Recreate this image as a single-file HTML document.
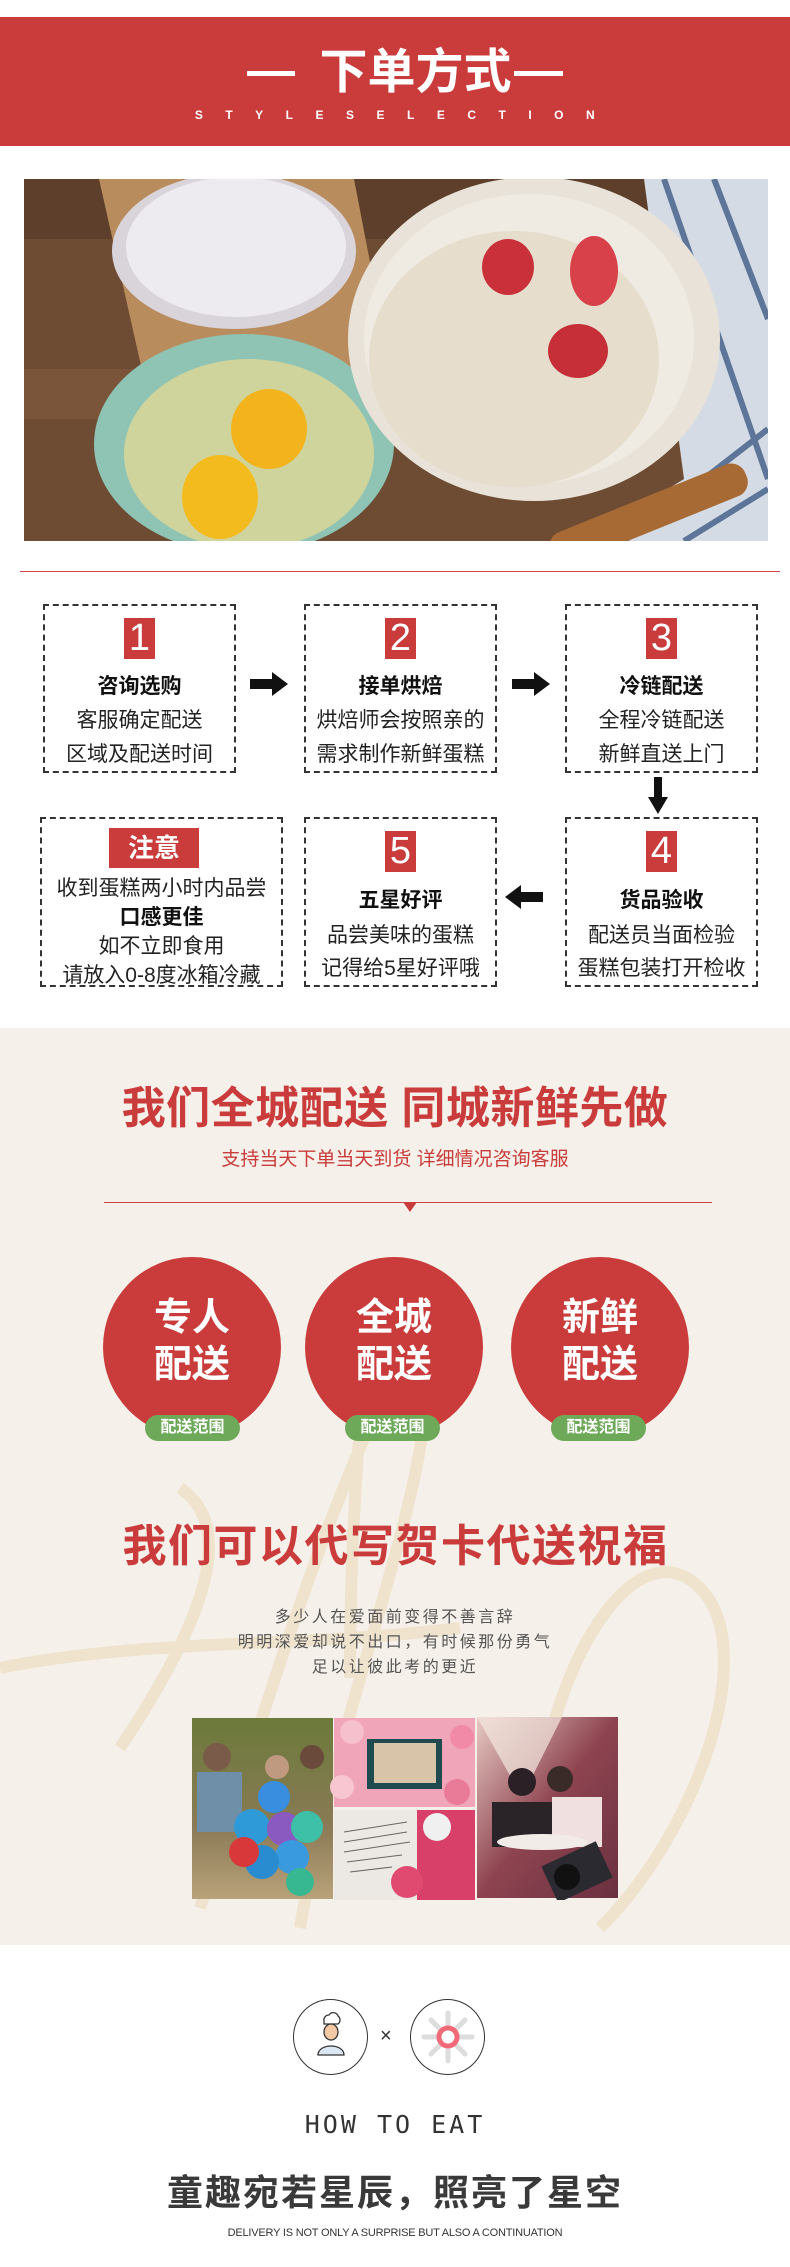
<!DOCTYPE html>
<html><head><meta charset="utf-8">
<style>
*{margin:0;padding:0;box-sizing:border-box}
body{width:790px;height:2267px;position:relative;background:#fff;font-family:"Liberation Sans","Noto Sans CJK SC",sans-serif;overflow:hidden}
.a{position:absolute}
.c{position:absolute;left:0;width:790px;text-align:center;white-space:nowrap}
.box{position:absolute;border:2px dashed #333;text-align:center}
.num{position:absolute;background:#c93c3b;color:#fff;font-size:38px;line-height:41px;width:31px;height:41px;text-align:center;font-family:"Liberation Sans Narrow","Liberation Sans",sans-serif}
.t{position:absolute;left:0;right:0;text-align:center;white-space:nowrap;font-size:21px;color:#222}
.b{font-weight:bold;color:#111}
.circ{position:absolute;width:178px;height:180px;border-radius:50%;background:#c93c3b;color:#fff;font-weight:bold;font-size:38px;line-height:47px;text-align:center;padding-top:38px}
.pill{position:absolute;width:95px;height:26px;border-radius:13px;background:#6ea95a;color:#fff;font-size:16px;font-weight:bold;line-height:26px;text-align:center}
</style></head><body>

<!-- header -->
<div class="a" style="left:0;top:17px;width:790px;height:129px;background:#c93c3b"></div>
<div class="a" style="left:247px;top:71px;width:48px;height:5px;background:#fff"></div>
<div class="a" style="left:514px;top:71px;width:49px;height:5px;background:#fff"></div>
<div class="a" style="left:317px;top:44px;width:197px;text-align:center;font-size:48px;font-weight:bold;color:#fff;line-height:58px;white-space:nowrap">下单方式</div>
<div class="c" style="top:108px;font-size:12px;font-weight:bold;color:#fff;letter-spacing:22.5px;padding-left:22px">STYLESELECTION</div>

<!-- photo -->
<svg class="a" style="left:24px;top:179px" width="744" height="362" viewBox="0 0 744 362">
<rect width="744" height="362" fill="#6e4b33"/>
<rect y="0" width="744" height="60" fill="#5e3f2b"/>
<rect y="190" width="744" height="50" fill="#7b5539"/>
<polygon points="75,0 330,0 380,260 200,300 120,200" fill="#b98c5d"/>
<ellipse cx="210" cy="72" rx="122" ry="78" fill="#d9d4da"/>
<ellipse cx="212" cy="68" rx="110" ry="70" fill="#eeebf0"/>
<ellipse cx="220" cy="265" rx="150" ry="110" fill="#8fc3b4"/>
<ellipse cx="225" cy="275" rx="125" ry="95" fill="#cfd49c"/>
<ellipse cx="245" cy="250" rx="38" ry="40" fill="#f2b31c"/>
<ellipse cx="196" cy="318" rx="38" ry="42" fill="#f4bb1e"/>
<polygon points="620,0 744,0 744,362 560,362 660,300" fill="#d4dbe4"/>
<g stroke="#2a4a78" stroke-width="6" opacity=".7"><line x1="640" y1="0" x2="744" y2="300"/><line x1="690" y1="0" x2="744" y2="140"/><line x1="600" y1="362" x2="744" y2="250"/><line x1="660" y1="362" x2="744" y2="310"/></g>
<ellipse cx="510" cy="160" rx="186" ry="162" fill="#e8e2d8"/>
<ellipse cx="505" cy="160" rx="165" ry="145" fill="#efebe3"/>
<ellipse cx="490" cy="180" rx="145" ry="128" fill="#e6ddcc"/>
<ellipse cx="484" cy="88" rx="26" ry="28" fill="#c9303a"/>
<ellipse cx="570" cy="92" rx="24" ry="35" fill="#d8404a"/>
<ellipse cx="554" cy="172" rx="30" ry="27" fill="#c72f38"/>
<rect x="520" y="320" width="210" height="34" rx="15" fill="#a86a35" transform="rotate(-22 620 337)"/>
</svg>
<div class="a" style="left:20px;top:571px;width:760px;height:1px;background:#d04545"></div>

<!-- flow row 1 -->
<div class="box" style="left:43px;top:604px;width:193px;height:169px">
 <div class="num" style="left:79px;top:12px">1</div>
 <div class="t b" style="top:64px">咨询选购</div>
 <div class="t" style="top:98px">客服确定配送</div>
 <div class="t" style="top:132px">区域及配送时间</div>
</div>
<div class="box" style="left:304px;top:604px;width:193px;height:169px">
 <div class="num" style="left:79px;top:12px">2</div>
 <div class="t b" style="top:64px">接单烘焙</div>
 <div class="t" style="top:98px">烘焙师会按照亲的</div>
 <div class="t" style="top:132px">需求制作新鲜蛋糕</div>
</div>
<div class="box" style="left:565px;top:604px;width:193px;height:169px">
 <div class="num" style="left:79px;top:12px">3</div>
 <div class="t b" style="top:64px">冷链配送</div>
 <div class="t" style="top:98px">全程冷链配送</div>
 <div class="t" style="top:132px">新鲜直送上门</div>
</div>
<svg class="a" style="left:250px;top:672px" width="40" height="24"><polygon points="0,7 22,7 22,0 38,12 22,24 22,17 0,17" fill="#111"/></svg>
<svg class="a" style="left:512px;top:672px" width="40" height="24"><polygon points="0,7 22,7 22,0 38,12 22,24 22,17 0,17" fill="#111"/></svg>
<svg class="a" style="left:648px;top:777px" width="20" height="38"><polygon points="6,0 14,0 14,20 20,20 10,37 0,20 6,20" fill="#111"/></svg>

<!-- flow row 2 -->
<div class="box" style="left:40px;top:817px;width:243px;height:170px">
 <div class="a" style="left:67px;top:9px;width:90px;height:40px;background:#c93c3b;color:#fff;font-size:26px;font-weight:bold;line-height:40px">注意</div>
 <div class="t" style="top:53px">收到蛋糕两小时内品尝</div>
 <div class="t b" style="top:82px">口感更佳</div>
 <div class="t" style="top:111px">如不立即食用</div>
 <div class="t" style="top:140px">请放入0-8度冰箱冷藏</div>
</div>
<div class="box" style="left:304px;top:817px;width:193px;height:170px">
 <div class="num" style="left:79px;top:12px">5</div>
 <div class="t b" style="top:65px">五星好评</div>
 <div class="t" style="top:100px">品尝美味的蛋糕</div>
 <div class="t" style="top:133px">记得给5星好评哦</div>
</div>
<div class="box" style="left:565px;top:817px;width:193px;height:170px">
 <div class="num" style="left:79px;top:12px">4</div>
 <div class="t b" style="top:65px">货品验收</div>
 <div class="t" style="top:100px">配送员当面检验</div>
 <div class="t" style="top:133px">蛋糕包装打开检收</div>
</div>
<svg class="a" style="left:503px;top:885px" width="40" height="24"><polygon points="40,7 18,7 18,0 2,12 18,24 18,17 40,17" fill="#111"/></svg>

<!-- beige section -->
<div class="a" style="left:0;top:1028px;width:790px;height:917px;background:#f5f0ea;overflow:hidden">
 <svg width="790" height="917" style="position:absolute;left:0;top:0" fill="none" stroke="#ecdcbc" stroke-width="12" opacity=".6">
  <path d="M120 720 C 200 600, 240 500, 180 460 M200 880 C 260 700, 300 560, 360 420 C 400 330, 440 300, 420 420 C 400 540, 330 720, 300 900"/>
  <path d="M0 640 C 150 610, 300 620, 460 600"/>
  <path d="M600 900 C 700 800, 760 620, 700 560 C 640 500, 560 620, 540 760"/>
  <path d="M380 260 C 360 350, 350 500, 350 650"/>
 </svg>
</div>
<div class="c" style="top:1084px;font-size:44px;font-weight:bold;color:#c93c3b;line-height:50px;letter-spacing:0.5px">我们全城配送 同城新鲜先做</div>
<div class="c" style="top:1148px;font-size:19px;color:#c93c3b;line-height:24px">支持当天下单当天到货 详细情况咨询客服</div>
<div class="a" style="left:104px;top:1202px;width:608px;height:1px;background:#c94545"></div>
<svg class="a" style="left:403px;top:1202px" width="14" height="11"><polygon points="0,0 14,0 7,10" fill="#c93c3b"/></svg>

<div class="circ" style="left:103px;top:1257px">专人<br>配送</div>
<div class="circ" style="left:305px;top:1257px">全城<br>配送</div>
<div class="circ" style="left:511px;top:1257px">新鲜<br>配送</div>
<div class="pill" style="left:145px;top:1415px">配送范围</div>
<div class="pill" style="left:345px;top:1415px">配送范围</div>
<div class="pill" style="left:551px;top:1415px">配送范围</div>

<div class="c" style="top:1521px;font-size:44px;font-weight:bold;color:#c93c3b;line-height:52px;letter-spacing:1.5px;padding-left:1px">我们可以代写贺卡代送祝福</div>
<div class="c" style="top:1605px;font-size:16px;color:#555;line-height:25px;letter-spacing:2.5px">多少人在爱面前变得不善言辞<br>明明深爱却说不出口，有时候那份勇气<br>足以让彼此考的更近</div>

<!-- collage -->
<svg class="a" style="left:192px;top:1717px" width="426" height="183">
 <defs>
  <linearGradient id="g1" x1="0" y1="0" x2="0" y2="1"><stop offset="0" stop-color="#6b7a3a"/><stop offset=".6" stop-color="#8a7a55"/><stop offset="1" stop-color="#b8a27a"/></linearGradient>
  <linearGradient id="g3" x1="0" y1="0" x2="1" y2="1"><stop offset="0" stop-color="#e7c9c3"/><stop offset=".5" stop-color="#8e4450"/><stop offset="1" stop-color="#6a3040"/></linearGradient>
 </defs>
 <rect x="0" y="1" width="141" height="181" fill="url(#g1)"/>
 <circle cx="25" cy="40" r="14" fill="#7a5a48"/><rect x="5" y="55" width="45" height="60" fill="#6f8fa8"/>
 <circle cx="85" cy="50" r="12" fill="#c09a80"/><circle cx="120" cy="40" r="12" fill="#6a4a3a"/>
 <circle cx="60" cy="110" r="18" fill="#2f9ad8"/><circle cx="92" cy="112" r="17" fill="#8a5ac0"/><circle cx="115" cy="110" r="16" fill="#3ec0a8"/>
 <circle cx="82" cy="80" r="16" fill="#3a8ee0"/><circle cx="100" cy="140" r="17" fill="#3a9ae0"/><circle cx="70" cy="145" r="17" fill="#2a8cd0"/><circle cx="52" cy="135" r="15" fill="#d8383a"/><circle cx="108" cy="165" r="14" fill="#38b890"/>
 <rect x="142" y="1" width="141" height="89" fill="#f0a6b8"/>
 <rect x="175" y="22" width="75" height="50" fill="#1f4a50"/>
 <rect x="182" y="26" width="62" height="40" fill="#d8c4a8"/>
 <circle cx="160" cy="15" r="12" fill="#f6c0cc"/><circle cx="265" cy="75" r="13" fill="#e97a98"/><circle cx="150" cy="70" r="12" fill="#f8c6d0"/><circle cx="270" cy="20" r="12" fill="#f18aa6"/>
 <rect x="142" y="93" width="141" height="90" fill="#ece8e4"/>
 <rect x="225" y="93" width="58" height="90" fill="#d8406a"/>
 <circle cx="215" cy="165" r="16" fill="#e04a70"/><circle cx="245" cy="110" r="14" fill="#f0f0f0"/>
 <g stroke="#666" stroke-width="1"><line x1="152" y1="115" x2="215" y2="105"/><line x1="152" y1="125" x2="215" y2="115"/><line x1="152" y1="135" x2="218" y2="125"/><line x1="155" y1="145" x2="210" y2="138"/><line x1="158" y1="155" x2="200" y2="150"/></g>
 <rect x="285" y="0" width="141" height="181" fill="url(#g3)"/>
 <polygon points="285,0 370,0 330,80" fill="#f4e8e0" opacity=".7"/>
 <circle cx="330" cy="65" r="14" fill="#2a2025"/><circle cx="368" cy="62" r="13" fill="#3a2a28"/>
 <rect x="300" y="85" width="60" height="45" fill="#2a2428"/><rect x="360" y="80" width="50" height="50" fill="#f0e0e0"/>
 <ellipse cx="350" cy="125" rx="45" ry="8" fill="#f2ece8"/>
 <rect x="355" y="135" width="60" height="40" fill="#2a2a30" transform="rotate(-25 385 155)"/><circle cx="375" cy="160" r="13" fill="#111"/>
</svg>

<!-- bottom -->
<div class="a" style="left:293px;top:1999px;width:75px;height:76px;border:1.5px solid #333;border-radius:50%"></div>
<div class="a" style="left:410px;top:1999px;width:75px;height:76px;border:1.5px solid #333;border-radius:50%"></div>
<svg class="a" style="left:293px;top:1999px" width="76" height="76">
 <path d="M31 22 a5 5 0 0 1 5 -6 a5 5 0 0 1 9 1 a5 5 0 0 1 0 8 l-14 0 z" fill="#fff" stroke="#333" stroke-width="1.3"/>
 <ellipse cx="38" cy="33" rx="7" ry="8" fill="#f2c9a4" stroke="#333" stroke-width="1.3"/>
 <path d="M25 56 C 25 44, 51 44, 51 56 Z" fill="#dbe6f4" stroke="#333" stroke-width="1.3"/>
</svg>
<div class="a" style="left:380px;top:2025px;font-size:20px;color:#333">×</div>
<svg class="a" style="left:410px;top:1999px" width="76" height="76">
 <g stroke="#ddd" stroke-width="5" stroke-linecap="round"><line x1="38" y1="14" x2="38" y2="62"/><line x1="14" y1="38" x2="62" y2="38"/><line x1="21" y1="21" x2="55" y2="55"/><line x1="55" y1="21" x2="21" y2="55"/></g>
 <circle cx="38" cy="38" r="9" fill="#fff" stroke="#f06a78" stroke-width="5"/>
</svg>
<div class="c" style="top:2110px;font-size:25px;color:#333;letter-spacing:3px;line-height:30px;font-family:'DejaVu Sans Mono','Liberation Mono',monospace">HOW TO EAT</div>
<div class="c" style="top:2172px;font-size:36px;font-weight:bold;color:#3a3a3a;line-height:42px;letter-spacing:2px">童趣宛若星辰，照亮了星空</div>
<div class="c" style="top:2226px;font-size:11px;color:#333;line-height:14px;letter-spacing:-0.2px">DELIVERY IS NOT ONLY A SURPRISE BUT ALSO A CONTINUATION</div>
</body></html>
